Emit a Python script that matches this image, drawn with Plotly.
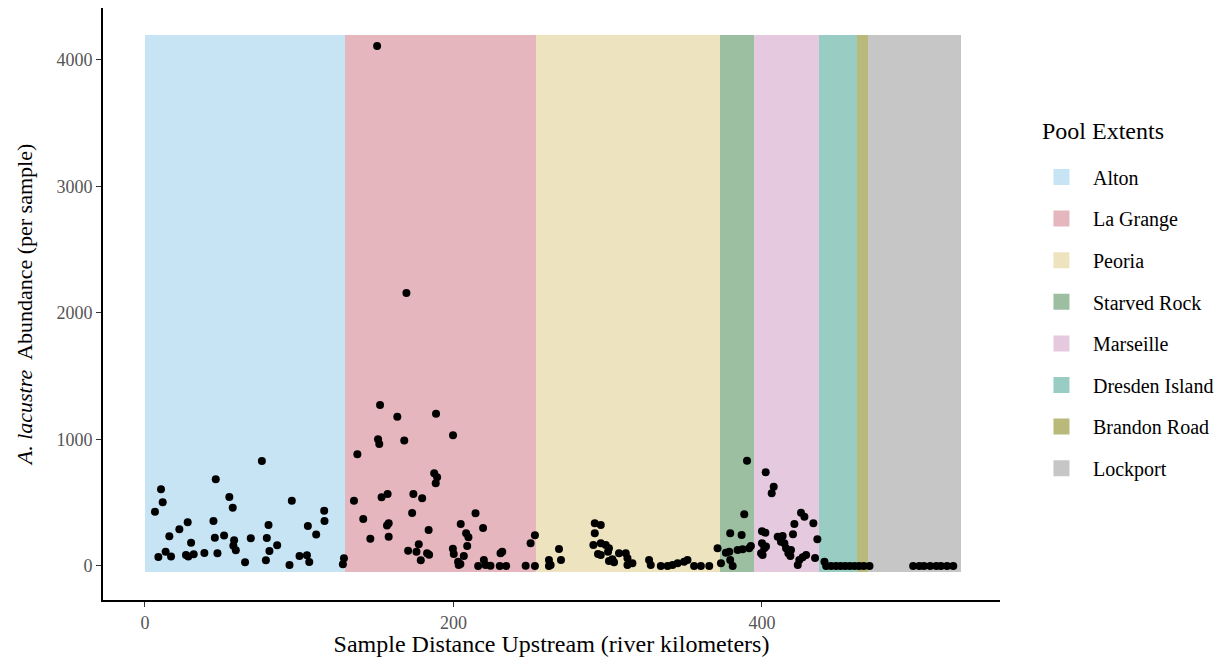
import plotly.graph_objects as go

# ---------------- data ----------------
pool_names = ["Alton", "La Grange", "Peoria", "Starved Rock", "Marseille",
              "Dresden Island", "Brandon Road", "Lockport"]
pool_start_km = [0.0, 129.4, 253.4, 372.7, 395.0, 436.8, 461.5, 469.0]
pool_end_km = [129.4, 253.4, 372.7, 395.0, 436.8, 461.5, 469.0, 528.7]
pool_bottom = -50
pool_top = 4200

distance_km = [
    # Alton
    6.5, 10.4, 11.5, 8.7, 13.4, 16.9, 15.8, 22.3, 27.7, 26.6, 28.1, 31.6, 29.9,
    38.5, 44.4, 45.9, 45.3, 47.0, 51.3, 54.7, 56.9, 57.8, 57.3, 58.9, 64.9, 68.6,
    75.8, 80.1, 79.0, 80.7, 78.4, 85.7, 93.7, 95.2, 100.2, 105.0, 106.5, 105.6,
    111.0, 116.2, 116.4, 128.3, 129.0,
    # La Grange
    150.5, 169.5, 152.4, 163.6, 188.7, 151.1, 151.9, 168.1, 137.7, 199.7, 187.5,
    189.4, 188.5, 135.5, 153.4, 157.3, 174.0, 179.7, 141.5, 173.2, 214.3, 156.9,
    158.0, 146.1, 158.0, 183.9, 204.7, 219.2, 208.2, 209.7, 208.9, 170.6, 177.5,
    176.0, 182.9, 184.2, 178.8, 199.6, 200.2, 206.7, 203.0, 204.5, 203.4, 216.0,
    219.7, 220.8, 224.0, 230.5, 231.6, 230.0, 234.2, 246.8, 252.8, 250.0, 252.8,
    # Peoria
    261.9, 263.0, 261.9, 268.4, 269.7, 291.6, 295.5, 291.6, 290.7, 295.5, 298.7,
    300.8, 300.2, 293.7, 295.5, 300.8, 304.1, 303.0, 307.3, 311.7, 312.8, 312.8,
    316.0, 326.8, 327.9, 334.4, 338.8, 342.0, 345.3, 349.5, 351.7, 356.0, 360.4,
    365.8, 371.2,
    # Starved Rock
    373.4, 376.6, 378.8, 379.4, 381.0, 379.4, 386.8, 388.5, 384.2, 387.4, 391.7,
    390.3, 392.8,
    # Marseille
    402.4, 407.6, 406.3, 400.0, 402.2, 400.0, 401.5, 402.6, 399.4, 400.4, 410.2,
    413.4, 412.3, 414.5, 415.6, 417.1, 418.4, 418.8, 420.1, 421.0, 425.3, 427.5,
    433.3, 435.9, 423.2, 424.2, 426.4, 428.6, 434.4,
    # Dresden Island / Brandon Road
    440.5, 441.6, 444.8, 448.0, 451.0, 454.0, 457.0, 460.0, 463.0, 466.0, 469.7,
    # Lockport
    498.0, 502.0, 505.0, 509.0, 513.0, 516.0, 520.0, 524.0,
]

abundance = [
    # Alton
    429, 606, 503, 71, 113, 74, 235, 290, 345, 87, 74, 92, 184,
    103, 356, 685, 224, 100, 240, 545, 461, 203, 160, 124, 29, 219,
    830, 324, 221, 119, 45, 163, 8, 516, 79, 84, 32, 316,
    248, 437, 356, 13, 61,
    # La Grange
    4110, 2158, 1273, 1180, 1204, 1002, 964, 991, 883, 1033, 733,
    701, 654, 516, 543, 569, 569, 535, 372, 419, 416, 319,
    338, 216, 232, 285, 332, 300, 258, 227, 158, 121, 172,
    113, 100, 89, 45, 137, 95, 79, 34, 16, 8, 0,
    47, 8, 2, 100, 113, 0, 0, 2, 0, 179, 243,
    # Peoria
    47, 8, 0, 134, 47, 338, 324, 258, 166, 179, 166,
    140, 113, 95, 87, 40, 29, 53, 100, 100, 61, 8,
    21, 47, 8, 0, 0, 8, 21, 34, 47, 0, 0,
    0, 140,
    # Starved Rock
    21, 105, 113, 47, 0, 258, 245, 409, 126, 132, 140,
    832, 158,
    # Marseille
    741, 627, 575, 274, 263, 179, 140, 153, 100, 87, 232,
    237, 192, 179, 140, 100, 79, 126, 250, 332, 421, 390,
    338, 211, 8, 47, 69, 87, 63,
    # Dresden Island / Brandon Road
    34, 0, 0, 0, 0, 0, 0, 0, 0, 0, 0,
    # Lockport
    0, 0, 0, 0, 0, 0, 0, 0,
]

x_ticks = [0, 200, 400]
y_ticks = [0, 1000, 2000, 3000, 4000]
legend_title = "Pool Extents"

# ---------------- styles ----------------
pool_colors = ["#C6E4F4", "#E6B6BE", "#EDE3BE", "#9CBFA1", "#E5CADF",
               "#99CDC4", "#B8B97A", "#C6C6C6"]
FONT = "Liberation Serif, Times New Roman, serif"

fig = go.Figure()

# pool extents as bars spanning the sample range
for name, s, e, c in zip(pool_names, pool_start_km, pool_end_km, pool_colors):
    fig.add_trace(go.Bar(
        x=[(s + e) / 2], y=[pool_top - pool_bottom], base=[pool_bottom],
        width=[e - s], marker=dict(color=c, line=dict(width=0)),
        showlegend=False, hoverinfo="skip",
    ))

# legend entries
for i, (name, c) in enumerate(zip(pool_names, pool_colors)):
    fig.add_trace(go.Scatter(
        x=[None], y=[None], mode="markers", name=name, legendgroup=f"g{i}",
        marker=dict(symbol="square", size=17, color=c),
    ))

# sample points
fig.add_trace(go.Scatter(
    x=distance_km, y=abundance, mode="markers",
    marker=dict(color="black", size=8, line=dict(width=0)),
    showlegend=False,
))

fig.add_annotation(
    text=legend_title, xref="paper", yref="paper",
    x=1.0446, y=0.792, xanchor="left", yanchor="middle", showarrow=False,
    font=dict(size=24, family=FONT, color="black"),
)

fig.update_layout(
    width=1216, height=649,
    margin=dict(l=95, r=224, t=0, b=57),
    paper_bgcolor="white", plot_bgcolor="white",
    barmode="overlay", bargap=0,
    font=dict(family=FONT, color="black"),
    legend=dict(
        font=dict(size=20, family=FONT),
        x=1.0334, y=0.7475, xanchor="left", yanchor="top",
        tracegroupgap=12.6, itemwidth=53,
        bgcolor="rgba(0,0,0,0)",
    ),
    xaxis=dict(
        range=[-27.2, 554.3], tickvals=x_ticks, ticktext=[str(v) for v in x_ticks],
        showgrid=False, zeroline=False, showline=True, linecolor="black", linewidth=2,
        ticks="outside", ticklen=5, tickwidth=1.2, tickcolor="#333333",
        tickfont=dict(size=18, color="#555555", family=FONT),
        title=dict(text="Sample Distance Upstream (river kilometers)",
                   font=dict(size=24, family=FONT), standoff=7),
    ),
    yaxis=dict(
        range=[-269, 4411], tickvals=y_ticks, ticktext=[str(v) for v in y_ticks],
        showgrid=False, zeroline=False, showline=True, linecolor="black", linewidth=2,
        ticks="outside", ticklen=5, tickwidth=1.2, tickcolor="#333333",
        tickfont=dict(size=18, color="#555555", family=FONT),
        title=dict(text="<i>A. lacustre</i>\u00a0 Abundance (per sample)",
                   font=dict(size=22, family=FONT), standoff=18),
    ),
)

fig.write_html("out.html", config={"displayModeBar": False})
